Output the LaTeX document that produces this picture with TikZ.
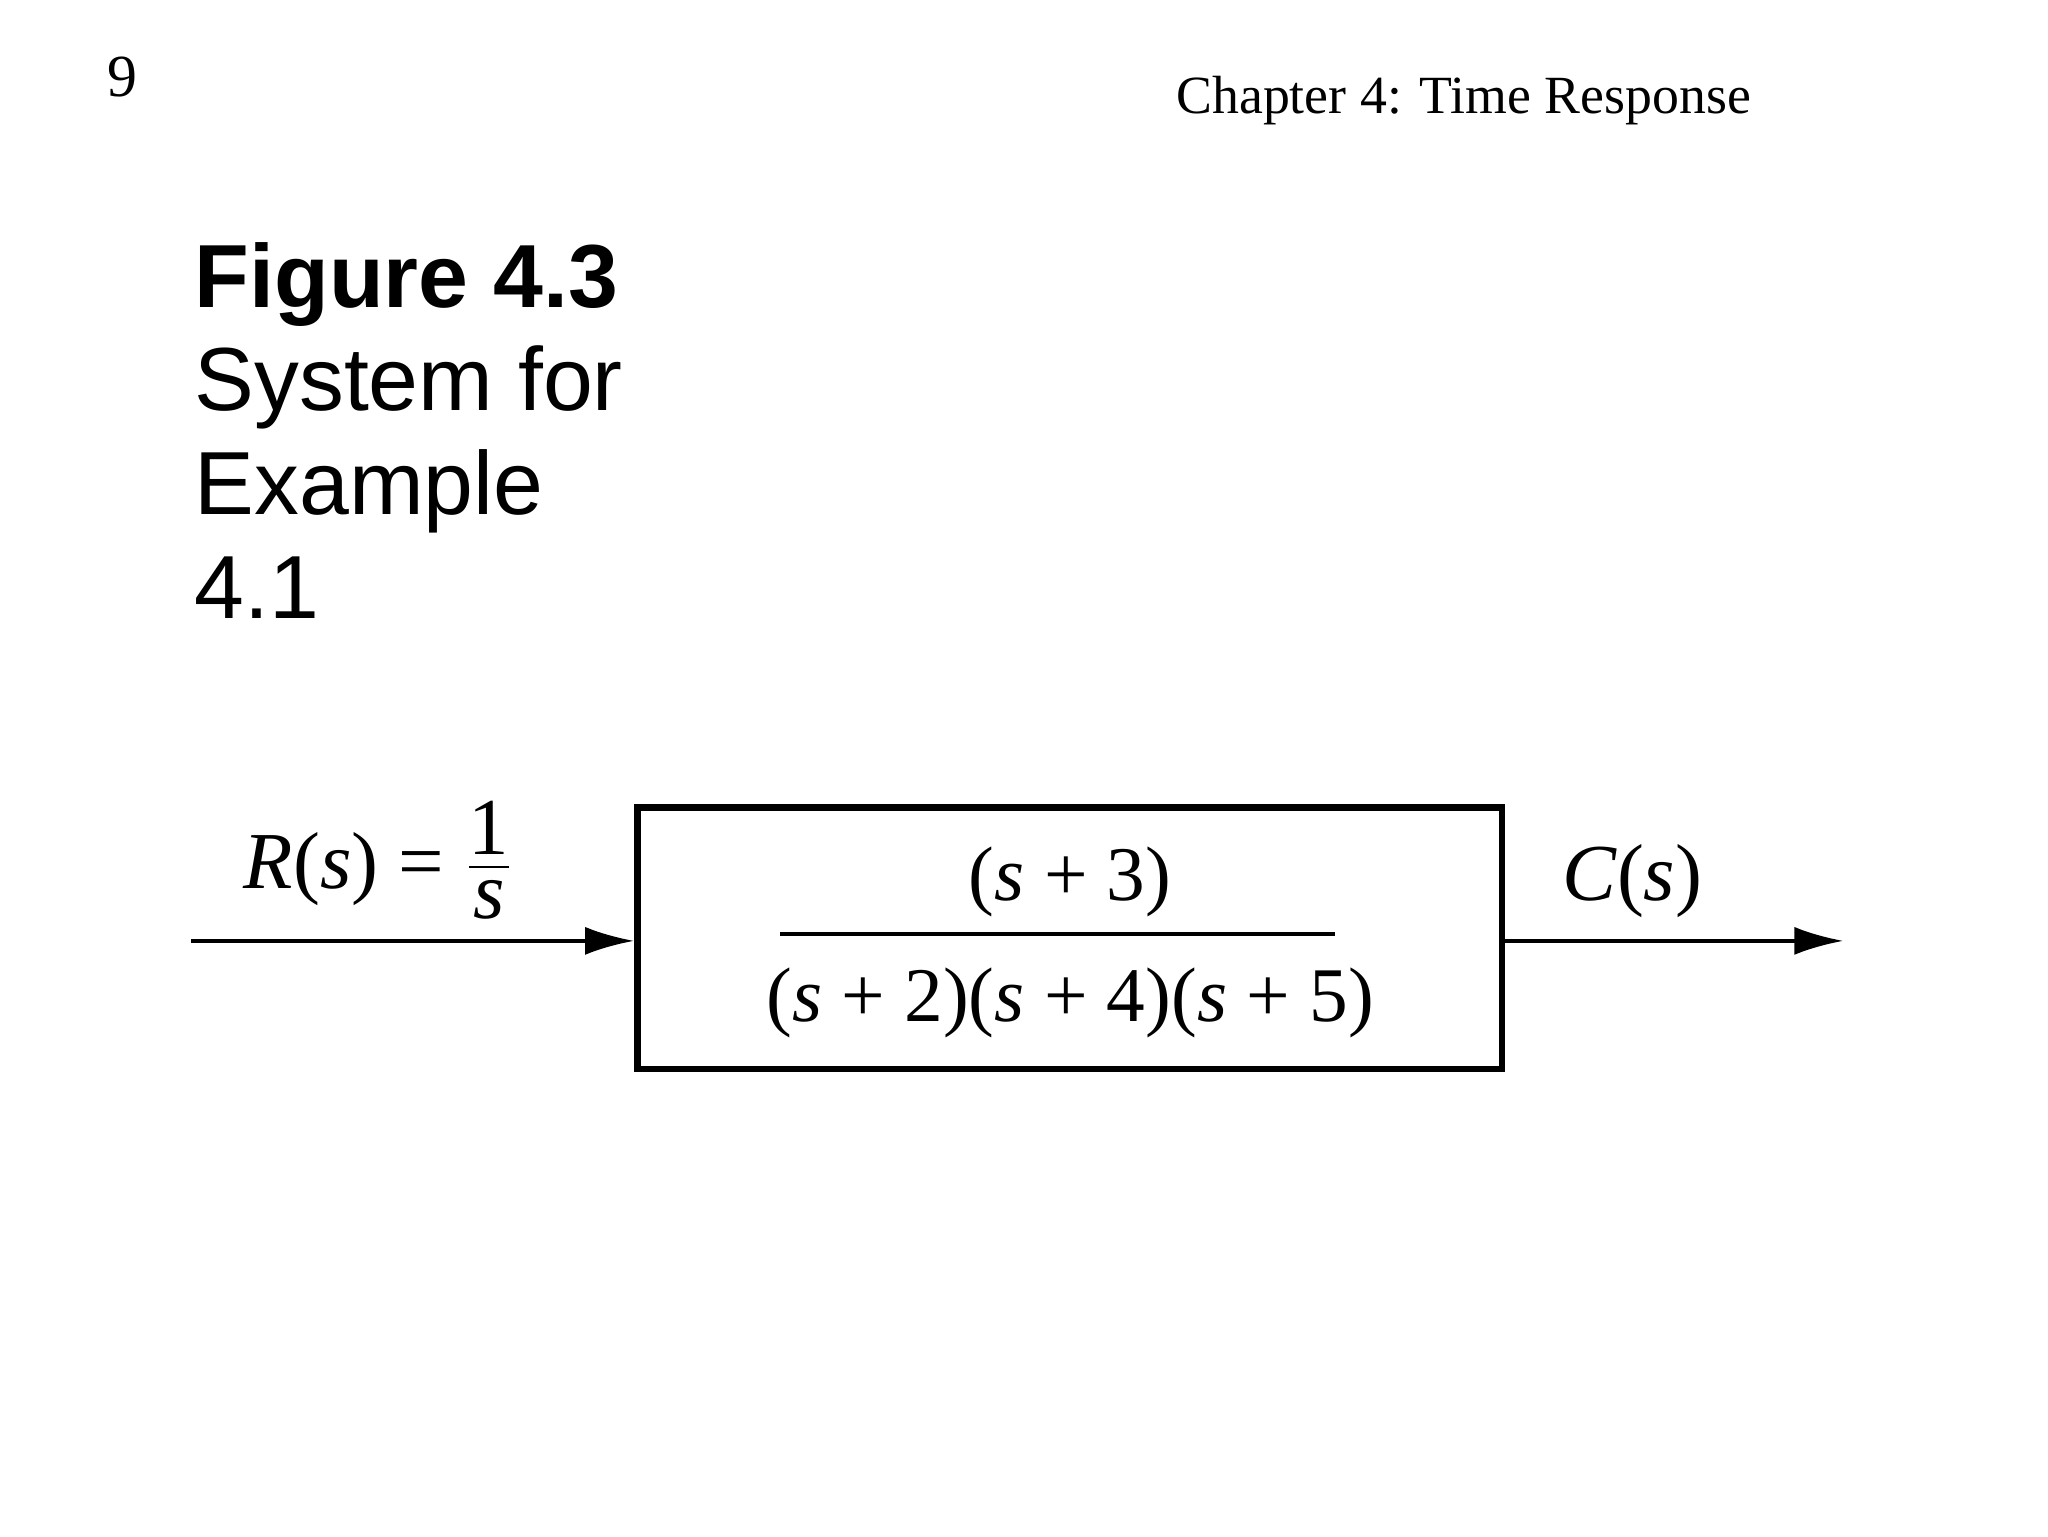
\documentclass[tikz,border=0pt]{standalone}
\usepackage{fontspec}
\setmainfont{Liberation Serif}
\setsansfont{Liberation Sans}
\usetikzlibrary{arrows.meta}
\begin{document}
\begin{tikzpicture}[x=0.013196cm,y=-0.013196cm,
  ser/.style={inner sep=0pt,font=\fontsize{17}{20}\selectfont},
  eq/.style={inner sep=0pt,font=\fontsize{22}{26}\selectfont},
  sig/.style={line width=1.1pt,-{Latex[length=14pt,width=8pt]}}]
\useasboundingbox (0,0) rectangle (1552,1164);
\node[ser] (pg) at (93,58) {9};
\node[ser,font=\fontsize{15.3}{18}\selectfont,anchor=base west] (ch) at (891,86) {Chapter 4: Time Response};
\node[anchor=north west,align=left,inner sep=0pt,font=\sffamily\fontsize{25.5}{29.5}\selectfont] (cap) at (147,183)
  {\textbf{Figure 4.3}\\System for\\Example\\4.1};
\node[draw,line width=1.8pt,minimum width=655*0.013196cm,minimum height=198*0.013196cm,inner sep=0pt] (box) at (810.5,711) {};
\node[eq] (num) at (811,668) {(\textit{s} + 3)};
\node[eq] (den) at (811,760) {(\textit{s} + 2)(\textit{s} + 4)(\textit{s} + 5)};
\coordinate (fl) at (591,708); \coordinate (fr) at (1012,708);
\draw[line width=1.2pt] (fl) -- (fr);
\coordinate (in) at (145,713);
\coordinate (out) at (1397,713);
\draw[sig] (in) -- (box.west |- in);
\draw[sig] (box.east |- out) -- (out);
\node[eq,font=\fontsize{23}{28}\selectfont] (R) at (287,652) {\textit{R}(\textit{s}) = $\frac{\mbox{1}}{\mbox{\textit{s}}}$};
\node[eq,font=\fontsize{23}{28}\selectfont] (C) at (1237,668) {\textit{C}(\textit{s})};
\end{tikzpicture}
\end{document}
